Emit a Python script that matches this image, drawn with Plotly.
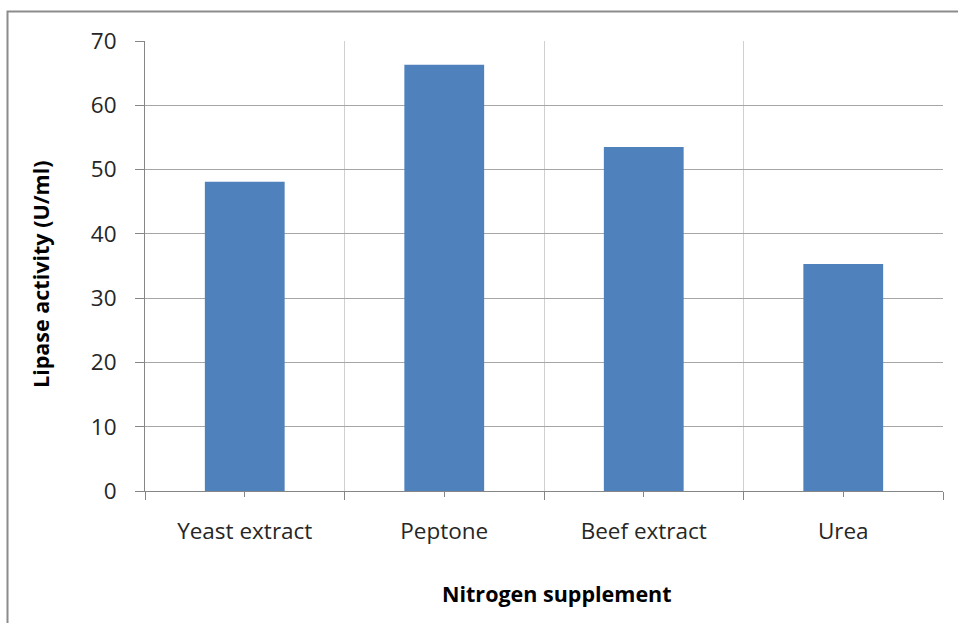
import plotly.graph_objects as go

# Lipase activity by nitrogen supplement
categories = ["Yeast extract", "Peptone", "Beef extract", "Urea"]
activity = [48.1, 66.3, 53.5, 35.3]
y_ticks = [0, 10, 20, 30, 40, 50, 60, 70]

W, H = 958, 623
L, R, T, B = 145, 15, 41, 132
pw, ph = W - L - R, H - T - B

idx = list(range(len(categories)))
FONT = "Open Sans, sans-serif"
TICK_SIZE = 22.5
TITLE_SIZE = 21.5

fig = go.Figure(
    go.Bar(
        x=idx,
        y=activity,
        width=0.4,
        marker=dict(color="#4f81bd", line=dict(width=0)),
        hovertext=categories,
    )
)

fig.update_layout(
    width=W,
    height=H,
    margin=dict(l=L, r=R, t=T, b=B),
    plot_bgcolor="white",
    paper_bgcolor="white",
    showlegend=False,
    font=dict(family=FONT, size=TICK_SIZE, color="#262626"),
)

fig.update_xaxes(
    range=[-0.5, len(categories) - 0.5],
    tickmode="array",
    tickvals=idx,
    ticktext=categories,
    showgrid=False,
    ticks="outside",
    ticklen=5,
    tickcolor="#868686",
    showline=True,
    linecolor="#868686",
    linewidth=1,
    zeroline=False,
    ticklabelstandoff=15,
    minor=dict(
        tickmode="array",
        tickvals=[i - 0.5 for i in range(len(categories) + 1)],
        showgrid=True,
        gridcolor="#d0d0d0",
        gridwidth=1,
        ticks="outside",
        ticklen=8,
        tickcolor="#868686",
    ),
    tickfont=dict(family=FONT, size=TICK_SIZE, color="#262626"),
)

fig.update_yaxes(
    range=[0, 70],
    tickmode="array",
    tickvals=y_ticks,
    showgrid=True,
    gridcolor="#a6a6a6",
    gridwidth=1,
    ticks="outside",
    ticklen=9,
    tickcolor="#868686",
    showline=True,
    linecolor="#868686",
    linewidth=1,
    zeroline=False,
    ticklabelstandoff=14,
    tickfont=dict(family=FONT, size=TICK_SIZE, color="#262626"),
)

# axis titles
fig.add_annotation(
    text="<b>Lipase activity (U/ml)</b>",
    xref="paper", yref="paper",
    x=(40 - L) / pw, y=(H - B - 274) / ph,
    textangle=-90, showarrow=False,
    font=dict(family=FONT, size=TITLE_SIZE, color="black"),
    xanchor="center", yanchor="middle",
)
fig.add_annotation(
    text="<b>Nitrogen supplement</b>",
    xref="paper", yref="paper",
    x=(557 - L) / pw, y=(H - B - 593) / ph,
    showarrow=False,
    font=dict(family=FONT, size=TITLE_SIZE, color="black"),
    xanchor="center", yanchor="middle",
)

# chart border
fig.add_shape(
    type="rect",
    xref="paper", yref="paper",
    x0=(7.5 - L) / pw, x1=(W + 10 - L) / pw,
    y0=(H - B - (H + 10)) / ph, y1=(H - B - 11.5) / ph,
    line=dict(color="#8c8c8c", width=2),
    fillcolor="rgba(0,0,0,0)",
    layer="below",
)

fig.write_html("out.html")
